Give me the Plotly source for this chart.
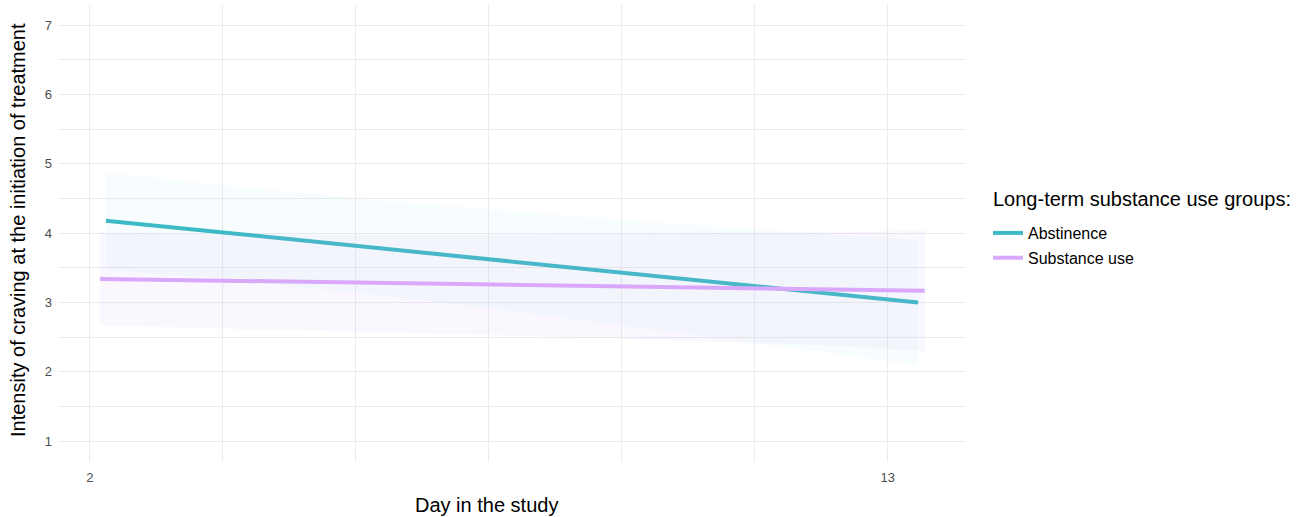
import plotly.graph_objects as go

# ---- data ----
groups = ["Abstinence", "Substance use"]

abst_line_x = [2.22, 13.42]
abst_line_y = [4.18, 3.00]
abst_band_x = [2.22, 4.0, 6.0, 8.0, 10.0, 12.0, 13.42]
abst_upper = [4.88, 4.67, 4.47, 4.30, 4.14, 4.00, 3.90]
abst_lower = [3.47, 3.32, 3.10, 2.85, 2.58, 2.30, 2.10]

subst_line_x = [2.14, 13.51]
subst_line_y = [3.34, 3.17]
subst_band_x = [2.14, 4.0, 6.0, 8.0, 10.0, 12.0, 13.51]
subst_upper = [4.01, 3.98, 3.97, 3.98, 3.99, 4.01, 4.04]
subst_lower = [2.67, 2.62, 2.57, 2.52, 2.46, 2.39, 2.30]

x_grid = [2, 3.8333, 5.6667, 7.5, 9.3333, 11.1667, 13]
x_labels = ["2", "", "", "", "", "", "13"]
y_grid = [1, 1.5, 2, 2.5, 3, 3.5, 4, 4.5, 5, 5.5, 6, 6.5, 7]
y_labels = ["1", "", "2", "", "3", "", "4", "", "5", "", "6", "", "7"]

teal = "#3DBAC6"
purple = "#D9A8FA"
teal_fill = "rgba(110,215,240,0.055)"
purple_fill = "rgba(200,150,245,0.08)"

fig = go.Figure()

def band(xs, up, lo, fill, grp):
    fig.add_trace(go.Scatter(
        x=xs + xs[::-1], y=up + lo[::-1], fill="toself", fillcolor=fill,
        line=dict(width=0), mode="lines", showlegend=False, hoverinfo="skip",
        legendgroup=grp))

band(abst_band_x, abst_upper, abst_lower, teal_fill, "a")
fig.add_trace(go.Scatter(x=abst_line_x, y=abst_line_y, mode="lines",
                         line=dict(color=teal, width=4), name=groups[0],
                         legendgroup="a"))
band(subst_band_x, subst_upper, subst_lower, purple_fill, "b")
fig.add_trace(go.Scatter(x=subst_line_x, y=subst_line_y, mode="lines",
                         line=dict(color=purple, width=4), name=groups[1],
                         legendgroup="b"))

font_family = "Liberation Sans, Arial, sans-serif"
L, R, T, B = 58, 336, 5, 55
W, H = 1302, 517
pw = W - L - R
ph = H - T - B

def px_x(p):
    return (p - L) / pw

def px_y(p):
    return (H - B - p) / ph

fig.update_layout(
    width=W, height=H,
    margin=dict(l=L, r=R, t=T, b=B, autoexpand=False),
    plot_bgcolor="white", paper_bgcolor="white",
    font=dict(family=font_family, color="#000000"),
    xaxis=dict(range=[1.56, 14.08], tickvals=x_grid, ticktext=x_labels,
               showgrid=True, gridcolor="#EBEBEB", gridwidth=1,
               zeroline=False, showline=False, ticks="", automargin=False,
               tickfont=dict(size=13, color="#4D4D4D"),
               ticklabelstandoff=6),
    yaxis=dict(range=[0.70, 7.29], tickvals=y_grid, ticktext=y_labels,
               showgrid=True, gridcolor="#EBEBEB", gridwidth=1,
               zeroline=False, showline=False, ticks="", automargin=False,
               tickfont=dict(size=13, color="#4D4D4D"),
               ticklabelstandoff=5),
    legend=dict(
        font=dict(size=16, color="#000000"),
        x=px_x(988), xanchor="left",
        y=px_y(216), yanchor="top",
        bgcolor="rgba(0,0,0,0)", tracegroupgap=1),
    showlegend=True,
    annotations=[
        dict(text="Long-term substance use groups:", xref="paper", yref="paper",
             x=px_x(991), y=px_y(199), xanchor="left", yanchor="middle",
             showarrow=False, font=dict(size=20, color="#000000")),
        dict(text="Day in the study", xref="paper", yref="paper",
             x=px_x(486), y=px_y(505),
             xanchor="center", yanchor="middle", showarrow=False,
             font=dict(size=20, color="#000000")),
        dict(text="Intensity of craving at the initiation of treatment",
             xref="paper", yref="paper",
             x=px_x(18), y=px_y(230),
             xanchor="center", yanchor="middle", textangle=-90, showarrow=False,
             font=dict(size=20, color="#000000")),
    ],
)

fig.write_html("out.html", config={"displayModeBar": False},
               post_script="document.body.style.margin='0';")
